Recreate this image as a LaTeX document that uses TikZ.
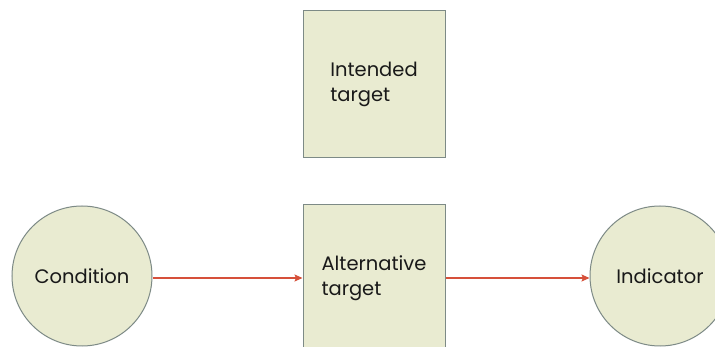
\documentclass[tikz,border=0pt]{standalone}
\usepackage{fontspec}
\setmainfont{Poppins}
\usetikzlibrary{arrows.meta}
\definecolor{boxfill}{HTML}{E9EBD1}
\definecolor{boxline}{HTML}{7D8A86}
\definecolor{linkred}{HTML}{D6503A}
\begin{document}
\begin{tikzpicture}[x=1pt,y=-1pt,
  every node/.style={font=\fontsize{19.5}{25}\selectfont, text=black!90},
  targetbox/.style={draw=boxline, fill=boxfill, line width=1pt,
    minimum width=142pt, minimum height=147pt, align=left, inner sep=0pt},
  stateball/.style={circle, draw=boxline, fill=boxfill, line width=1pt,
    minimum size=140pt, inner sep=0pt},
  link/.style={draw=linkred, line width=1.4pt,
    -{Stealth[length=8pt,width=7pt,inset=1.5pt]}}]
  \useasboundingbox (0,0) rectangle (715,347);
  \fill[white] (0,0) rectangle (715,347);
  \node[targetbox] (intended) at (374,84.5) {Intended\\target};
  \node[targetbox] (alt) at (374,278.5) {Alternative\\target};
  \node[stateball] (cond) at (82,276) {Condition};
  \node[stateball] (ind) at (660,276) {Indicator};
  \path[link] (cond.east |- 0,278) -- (alt.west |- 0,278);
  \path[link] (alt.east |- 0,278) -- (ind.west |- 0,278);
\end{tikzpicture}
\end{document}
